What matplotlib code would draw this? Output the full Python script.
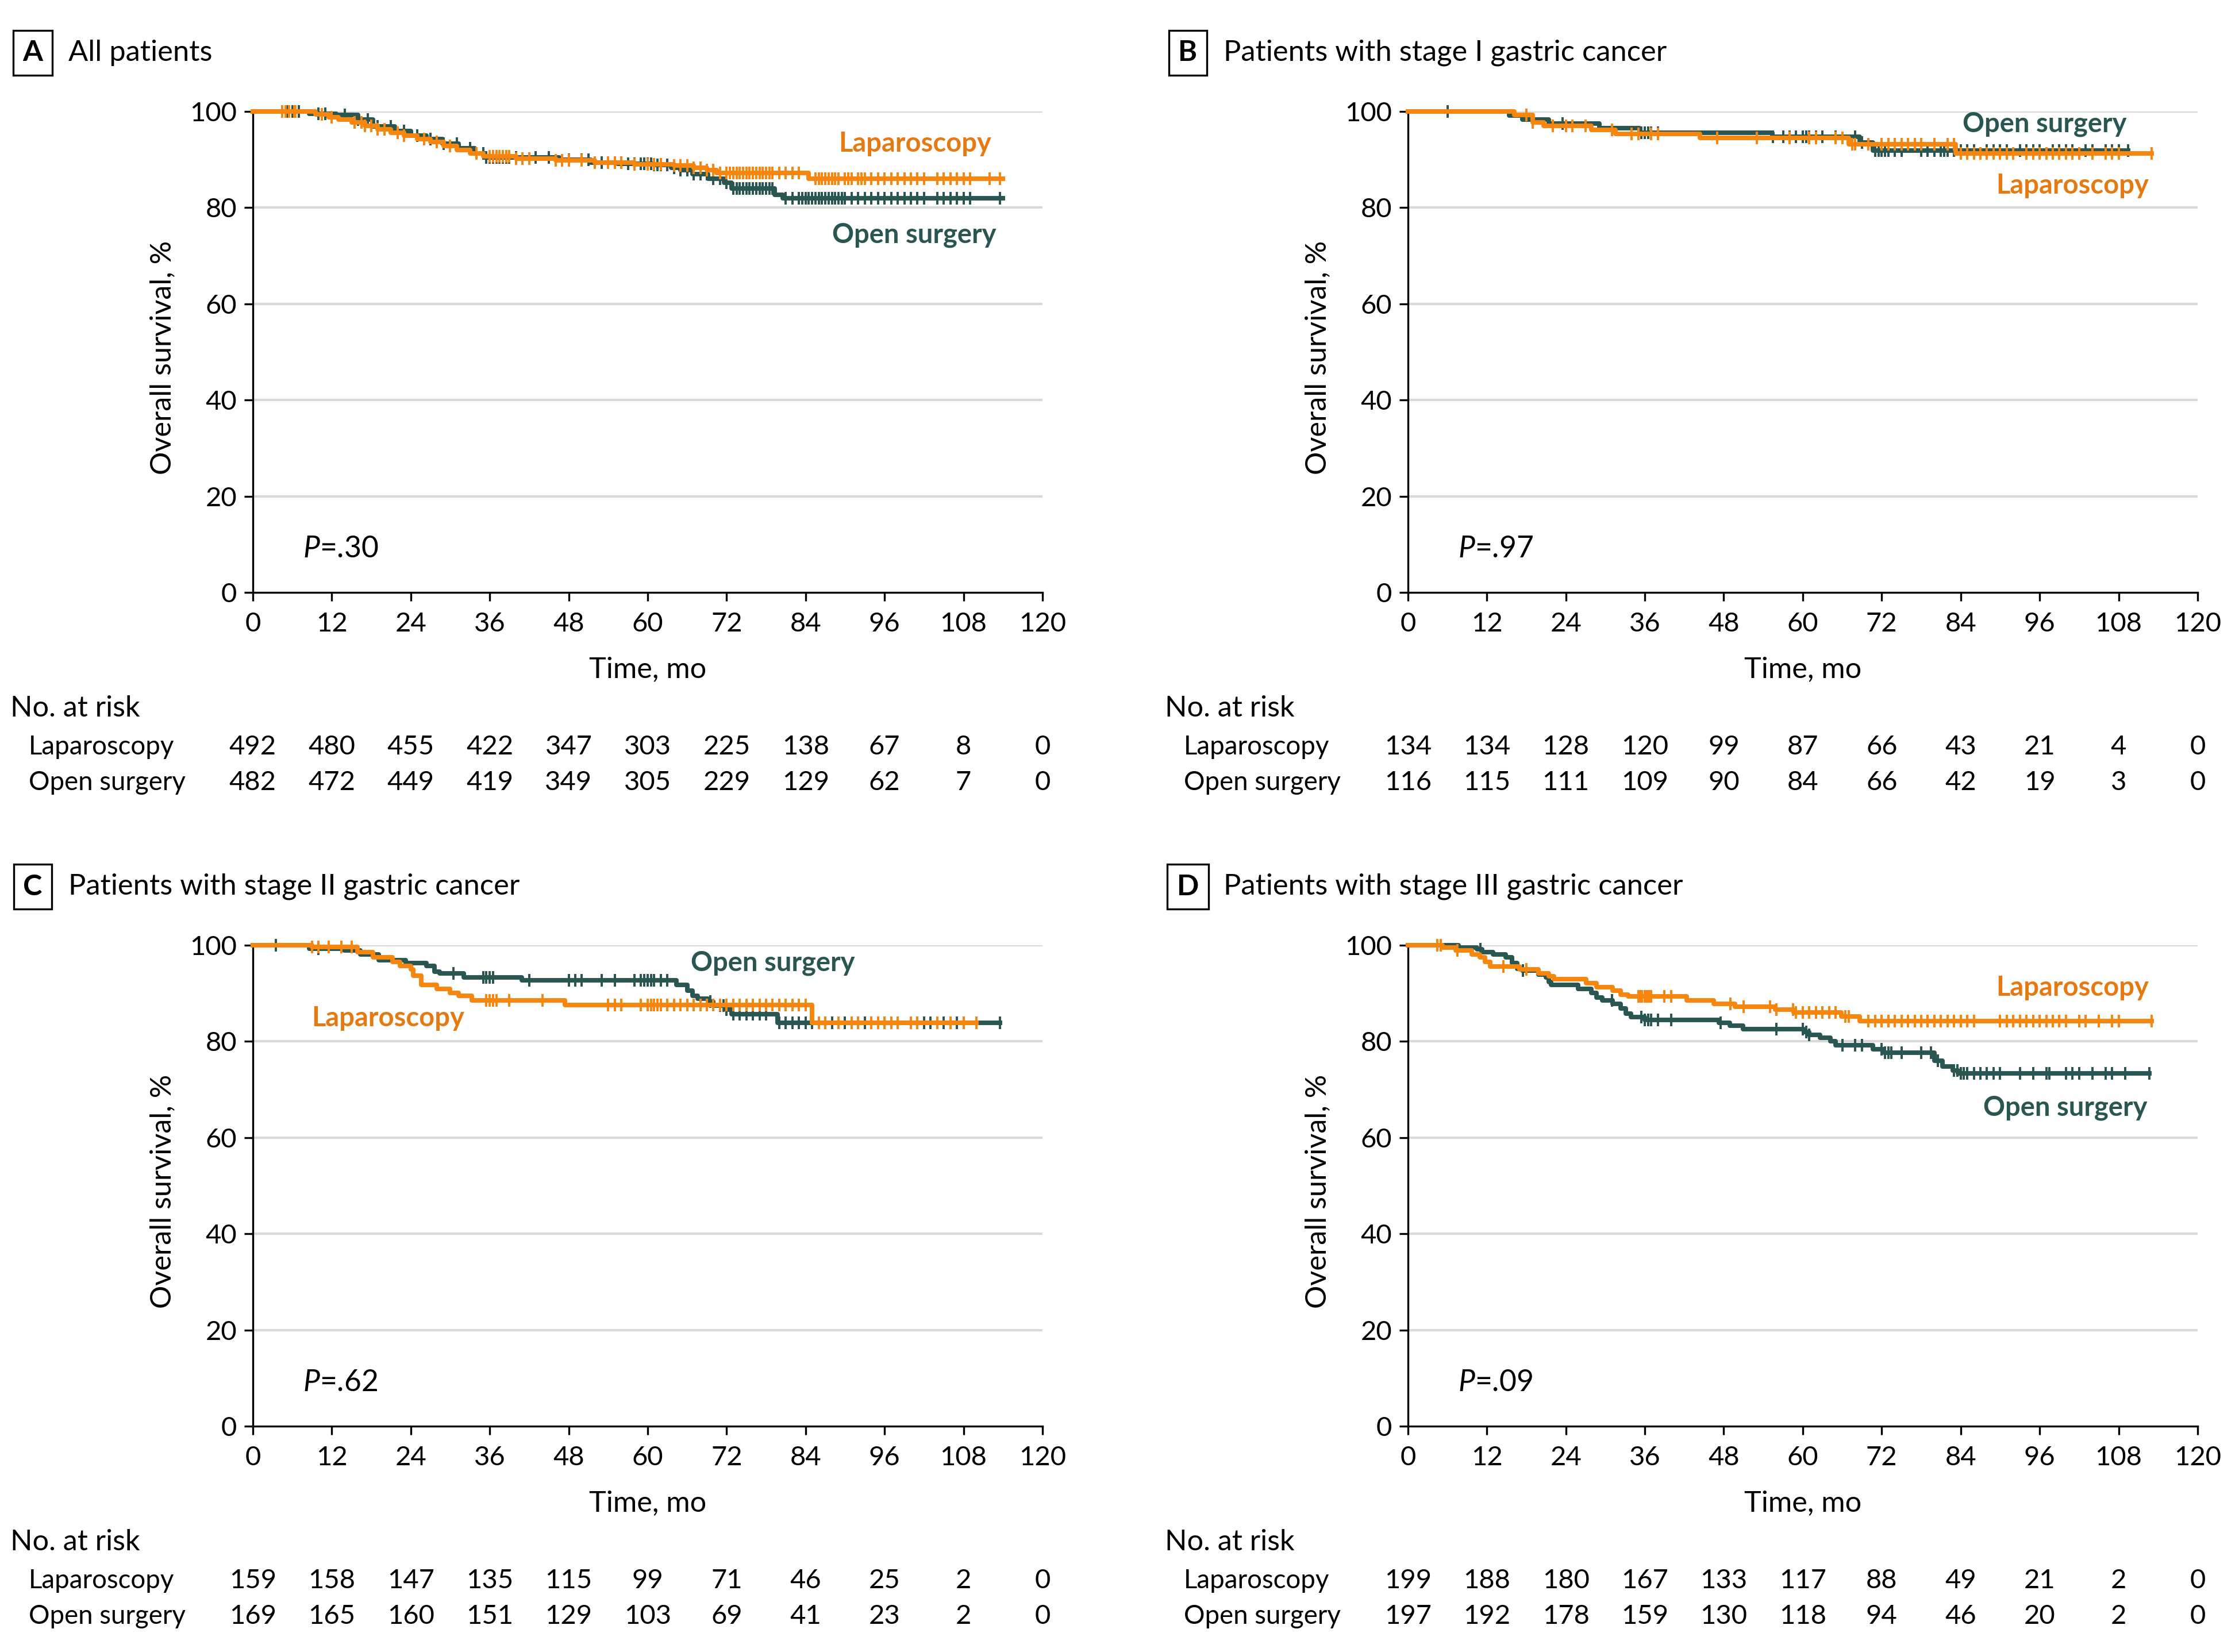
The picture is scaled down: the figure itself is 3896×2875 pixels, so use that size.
import numpy as np
import matplotlib
matplotlib.use("Agg")
import matplotlib.pyplot as plt
from matplotlib import transforms

FONT = "Lato"
plt.rcParams['font.family'] = [FONT, 'DejaVu Sans']
plt.rcParams['mathtext.fontset'] = 'custom'
plt.rcParams['mathtext.it'] = FONT + ':italic'
plt.rcParams['mathtext.rm'] = FONT

# ---------------- data ----------------
risk_times = [0, 12, 24, 36, 48, 60, 72, 84, 96, 108, 120]
groups = ["Laparoscopy", "Open surgery"]

titles = ["All patients", "Patients with stage I gastric cancer",
          "Patients with stage II gastric cancer", "Patients with stage III gastric cancer"]
panel_letters = ["A", "B", "C", "D"]
p_values = [".30", ".97", ".62", ".09"]

# Panel A
a_lap_t = [0, 9.5, 11.5, 13, 15, 17, 19, 21, 23, 25, 27, 29, 31, 33, 35, 40, 46, 52, 58, 64, 67, 69, 70.5, 84.5, 114]
a_lap_s = [100, 99.4, 98.8, 98.3, 97.7, 97.0, 96.3, 95.6, 95.0, 94.3, 93.6, 92.8, 92.0, 91.3, 90.6, 90.2, 89.8, 89.3, 89.0, 88.7, 88.3, 87.8, 87.2, 86.0, 86.0]
a_lap_c = [4.5, 5, 5.5, 6.3, 6.5, 10.5, 12, 15.5, 16.5, 17, 18, 19, 20, 22, 23, 26, 28, 30, 34, 36, 36.5, 37, 37.5, 38, 38.5,
           39, 40, 41, 42, 46, 47, 48, 50, 52, 54, 55, 56, 58, 60, 61, 62, 64, 65, 66, 67, 68, 69, 70, 71, 72, 72.5, 73, 73.5,
           74, 74.5, 75, 75.5, 76, 76.5, 77, 77.5, 78, 78.5, 79, 80, 81, 82, 83, 85.5, 86, 86.5, 87, 87.5, 88, 88.5, 89, 90,
           90.5, 91, 92, 92.5, 93, 94, 95, 96, 97, 98, 99, 100, 101, 102, 104, 105, 106, 107, 108, 109, 112, 113.5]
a_open_t = [0, 8.6, 12.7, 16, 18.3, 21.6, 24, 26.4, 28.8, 31.3, 33.7, 35.3, 46.6, 51.4, 55.5, 61, 63.6, 65, 66.8, 69.2, 71.6, 72.8, 79.3, 80.5, 114]
a_open_s = [100, 99.5, 99.2, 98.3, 96.9, 95.9, 94.9, 94.3, 93.3, 92.3, 91.3, 90.4, 89.9, 89.4, 89.1, 88.9, 88.3, 87.8, 87.0, 86.0, 85.2, 84.0, 82.6, 81.9, 81.9]
a_open_c = [4.5, 5.3, 6, 7, 10, 11, 14, 16, 17.5, 19, 21, 23, 25, 27, 29, 31, 33, 35, 35.5, 36, 36.5, 37, 37.5, 38, 38.5,
            39, 40, 43, 45, 48, 50, 51, 52, 53, 55, 57, 58, 59, 59.5, 60, 60.5, 61, 61.5, 62, 63, 64, 65, 66, 67, 68, 69,
            70, 71, 72, 73, 73.5, 74, 74.5, 75, 75.5, 76, 76.5, 77, 77.5, 78, 78.5, 79, 81, 82, 83, 83.5, 84, 84.5, 85,
            85.5, 86, 86.5, 87, 87.5, 88, 88.5, 89, 89.5, 90, 91, 92, 93, 94, 95, 96, 97, 98, 99, 100, 101, 102, 104, 105,
            106, 107, 108, 109, 113.5]
a_risk_lap = [492, 480, 455, 422, 347, 303, 225, 138, 67, 8, 0]
a_risk_open = [482, 472, 449, 419, 349, 305, 229, 129, 62, 7, 0]

# Panel B
b_lap_t = [0, 16.2, 19, 20.6, 27.9, 31.5, 44.4, 67, 83.2, 113]
b_lap_s = [100, 99.3, 97.7, 97.0, 96.1, 95.3, 94.5, 93.2, 91.2, 91.2]
b_lap_c = [18, 19, 22, 24, 25, 27, 31, 34, 35, 37, 38, 47, 53, 58, 61, 62, 65, 66, 67.5, 68, 70, 72, 73, 74, 75, 76, 77,
           78, 80, 82, 83, 84, 85, 86, 87, 88, 89, 90, 91, 92, 94, 95, 96, 97, 98, 99, 100, 101, 102, 104, 106, 107, 108, 113]
b_open_t = [0, 15.4, 17.4, 21.4, 29.1, 35.2, 55.4, 68.7, 70.7, 109.4]
b_open_s = [100, 99.1, 98.3, 97.5, 96.5, 95.5, 94.7, 93.5, 91.9, 91.9]
b_open_c = [6, 23.5, 35.5, 36, 36.5, 37, 38, 55.5, 57, 58, 59, 60, 60.5, 61, 62, 63, 65, 68, 69, 71, 71.5, 72, 72.5, 73,
            74, 75, 78, 79, 80, 81, 81.5, 82, 83, 84, 85, 86, 88, 89, 90, 91, 93, 94, 95, 96, 98, 99, 100, 101, 103, 104,
            106, 107, 108, 109.4]
b_risk_lap = [134, 134, 128, 120, 99, 87, 66, 43, 21, 4, 0]
b_risk_open = [116, 115, 111, 109, 90, 84, 66, 42, 19, 3, 0]

# Panel C
c_lap_t = [0, 9, 15.9, 18.3, 21.2, 22.4, 24, 24.4, 25.6, 28, 30, 31.3, 33.3, 47.4, 85, 110]
c_lap_s = [100, 99.6, 98.5, 97.5, 96.5, 95.7, 94.9, 93.7, 91.7, 90.9, 90.1, 89.5, 88.5, 87.6, 83.8, 83.8]
c_lap_c = [9, 10, 11.5, 13.5, 15, 35.5, 36, 36.5, 37, 39, 44, 54, 55, 56, 59, 60, 60.5, 61, 61.5, 62, 63, 64, 65, 66, 67,
           68, 69, 70, 71, 72, 73, 74, 75, 76, 77, 78, 79, 80, 81, 82, 83, 84, 86, 87, 89, 91, 92, 94, 95, 96, 97, 98,
           100, 101, 104, 106, 108, 110]
c_open_t = [0, 8.6, 13.9, 16.3, 19.1, 23.2, 26.4, 27.6, 28.4, 32.1, 40.9, 64.4, 66, 66.8, 67.6, 69.2, 70, 72, 72.8, 79.7, 113.5]
c_open_s = [100, 99.3, 98.9, 98.1, 96.9, 96.3, 95.7, 94.5, 94.1, 93.3, 92.7, 91.7, 90.5, 89.5, 88.9, 88.3, 87.4, 86.6, 85.6, 83.8, 83.8]
c_open_c = [3.5, 10, 30.5, 35, 35.5, 36, 36.5, 42, 48, 49, 50, 53, 55, 58, 59, 59.5, 60, 60.5, 61, 62, 63, 69.5, 71, 71.5,
            72, 73, 74, 75, 76, 77, 78, 80, 81, 82, 83, 84, 85, 86, 87, 88, 90, 91, 92, 93, 94, 95, 96, 97, 98, 100, 101,
            102, 103, 105, 106, 107, 108, 113.5]
c_risk_lap = [159, 158, 147, 135, 115, 99, 71, 46, 25, 2, 0]
c_risk_open = [169, 165, 160, 151, 129, 103, 69, 41, 23, 2, 0]

# Panel D
d_lap_t = [0, 5.3, 7.3, 9.7, 10.9, 11.7, 12.5, 17, 19.8, 21.4, 22.2, 27.1, 28.7, 31.1, 32.3, 33.5, 42.4, 46.5, 49.7,
           55.8, 58.6, 65.9, 68.7, 113]
d_lap_s = [100, 99.5, 98.9, 98.1, 97.5, 96.5, 95.5, 94.9, 94.1, 93.5, 92.9, 92.1, 91.3, 90.5, 89.7, 89.3, 88.5, 87.8,
           87.2, 86.6, 86.0, 85.2, 84.2, 84.2]
d_lap_c = [4.5, 5, 7.5, 14.5, 18, 35, 35.3, 35.6, 36, 36.3, 36.6, 37, 39, 40, 49, 51, 55, 56, 58.5, 59, 60, 61, 62, 63, 64,
           65, 66.5, 67, 70, 71, 72, 73, 74, 75, 76, 77, 78, 79, 80, 81, 82, 83, 84, 85, 86, 90, 91, 92, 93, 94, 95, 96,
           97, 98, 99, 100, 102, 103, 105, 107, 108, 113]
d_open_t = [0, 7.7, 10.5, 11.3, 12.9, 14.9, 15.8, 16.6, 17.4, 19.8, 21, 21.4, 21.8, 25.9, 27.9, 28.7, 29.5, 31.1, 32.3,
            33.1, 33.9, 36, 47.3, 48.9, 50.9, 60.2, 61, 62.6, 64.2, 65, 70.7, 72.3, 80, 81.2, 82.8, 83.6, 112.7]
d_open_s = [100, 99.5, 99.1, 98.5, 98.1, 97.5, 96.3, 95.1, 94.7, 93.9, 93.3, 92.3, 91.7, 90.9, 90.1, 89.1, 88.5, 87.8,
            86.8, 85.8, 85.0, 84.4, 83.8, 83.2, 82.5, 82.0, 81.4, 80.8, 80.0, 79.2, 78.4, 77.6, 76.0, 74.8, 74.0, 73.4, 73.4]
d_open_c = [5, 11, 17.5, 31, 35.5, 36, 36.5, 37, 38, 40, 47.5, 56, 60, 60.5, 61, 66, 68, 69, 72, 72.5, 73, 73.5, 75, 78,
            79.5, 80.5, 83, 83.5, 84, 84.5, 85, 86, 87, 88, 89, 90, 93, 95, 97, 97.5, 100, 101, 102, 104, 106, 107, 109, 112.7]
d_risk_lap = [199, 188, 180, 167, 133, 117, 88, 49, 21, 2, 0]
d_risk_open = [197, 192, 178, 159, 130, 118, 94, 46, 20, 2, 0]

# label positions (months, %) and alignment per panel: (lap, open)
label_specs = [
    ((112.2, 93.3, 'right'), (113.0, 74.3, 'right')),
    ((112.6, 84.6, 'right'), (109.2, 97.3, 'right')),
    ((8.9, 84.8, 'left'), (66.6, 96.3, 'left')),
    ((112.6, 91.1, 'right'), (112.4, 66.2, 'right')),
]

panels = [
    (a_lap_t, a_lap_s, a_lap_c, a_open_t, a_open_s, a_open_c, a_risk_lap, a_risk_open),
    (b_lap_t, b_lap_s, b_lap_c, b_open_t, b_open_s, b_open_c, b_risk_lap, b_risk_open),
    (c_lap_t, c_lap_s, c_lap_c, c_open_t, c_open_s, c_open_c, c_risk_lap, c_risk_open),
    (d_lap_t, d_lap_s, d_lap_c, d_open_t, d_open_s, d_open_c, d_risk_lap, d_risk_open),
]

# ---------------- style ----------------
LAP = '#f7860f'
LAP_TXT = '#e57a12'
OPEN = '#2a5652'
GRID = '#d9d9d9'
FS = 11.3      # numbers
FS_T = 12.1    # axis titles
FS_G = 10.95   # group names in risk table
FS_TITLE = 12.15

W, H = 3896, 2875
fig = plt.figure(figsize=(W / 300, H / 300), dpi=300)

ax_w, ax_h = 0.3527, 0.2913
lefts = [0.1129, 0.6288, 0.1129, 0.6288]
bottoms = [0.6413, 0.6413, 0.1366, 0.1366]
offs = [0.0, 0.0, 0.5048, 0.5048]   # vertical offset of texts for bottom row
DY = -0.0017


def step_value(t_arr, s_arr, t):
    idx = np.searchsorted(np.asarray(t_arr), t, side='right') - 1
    idx = np.clip(idx, 0, len(s_arr) - 1)
    return np.asarray(s_arr)[idx]


for i, (lt, ls, lc, ot, os_, oc, rl, ro) in enumerate(panels):
    L, B = lefts[i], bottoms[i]
    off = offs[i] - DY
    ax = fig.add_axes([L, B, ax_w, ax_h])
    ax.set_xlim(0, 120)
    ax.set_ylim(0, 100)
    for y in [20, 40, 60, 80, 100]:
        ax.axhline(y, color=GRID, lw=1.0, zorder=0)
    for spine in ['top', 'right']:
        ax.spines[spine].set_visible(False)
    for spine in ['left', 'bottom']:
        ax.spines[spine].set_linewidth(0.8)
    ax.set_xticks(risk_times)
    ax.set_yticks([0, 20, 40, 60, 80, 100])
    ax.tick_params(axis='both', length=3.6, width=0.8, labelsize=FS)
    ax.tick_params(axis='x', pad=4.6)
    ax.tick_params(axis='y', pad=3)

    for (t, s, c, col) in [(ot, os_, oc, OPEN), (lt, ls, lc, LAP)]:
        ax.step(t, s, where='post', color=col, lw=1.9, clip_on=False, zorder=3)
        cv = step_value(t, s, np.asarray(c))
        ax.plot(c, cv, ls='none', marker='|', ms=5.4, mew=0.95, color=col, clip_on=False, zorder=3)

    (lx, ly, lha), (ox, oy, oha) = label_specs[i]
    ax.text(lx, ly, "Laparoscopy", color=LAP_TXT, fontsize=FS, fontweight='bold', ha=lha, va='center')
    ax.text(ox, oy, "Open surgery", color=OPEN, fontsize=FS, fontweight='bold', ha=oha, va='center')

    ax.text(7.6, 9.0, r"$\it{P}$=" + p_values[i], fontsize=12.4, ha='left', va='center')

    # axis titles
    fig.text(L - 0.0402, B + ax_h / 2 - 0.0035, "Overall survival, %", rotation=90, fontsize=FS_T,
             ha='center', va='center')
    fig.text(L + ax_w / 2, 0.5964 - off, "Time, mo", fontsize=FS_T, ha='center', va='center')

    # panel title
    fig.text(L - 0.0983, 0.9698 - off, panel_letters[i], fontsize=FS_T, fontweight='bold', ha='center', va='center',
             bbox=dict(boxstyle='square,pad=0.33', fc='white', ec='black', lw=0.8))
    fig.text(L - 0.0823, 0.9698 - off, titles[i], fontsize=FS_TITLE, ha='left', va='center')

    # number at risk
    fig.text(L - 0.1084, 0.5730 - off, "No. at risk", fontsize=FS_T, ha='left', va='center')
    fig.text(L - 0.1001, 0.5497 - off, groups[0], fontsize=FS_G, ha='left', va='center')
    fig.text(L - 0.1001, 0.5281 - off, groups[1], fontsize=FS_G, ha='left', va='center')
    trans = transforms.blended_transform_factory(ax.transData, fig.transFigure)
    for tx, n1, n2 in zip(risk_times, rl, ro):
        ax.text(tx, 0.5497 - off, str(n1), transform=trans, fontsize=FS, ha='center', va='center', clip_on=False)
        ax.text(tx, 0.5281 - off, str(n2), transform=trans, fontsize=FS, ha='center', va='center', clip_on=False)

fig.savefig("out.png", dpi=300, facecolor='white')
